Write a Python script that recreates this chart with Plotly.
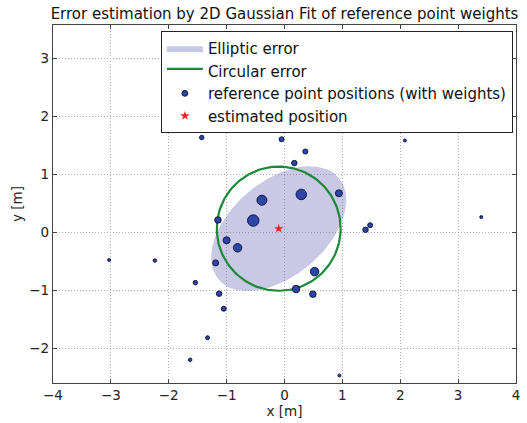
import numpy as np
import plotly.graph_objects as go

# reference points (x, y in metres) and weights (marker diameter scale)
ref_x = [-1.43, -0.05, 0.36, 0.17, 2.08, 0.94, 0.29, -0.39, -0.54, -1.15, -1.00, -0.81,
         -1.19, 0.52, 0.20, 0.49, -1.54, -1.13, -1.05, -1.33, -1.63, -3.03, -2.24,
         1.40, 1.48, 3.40, 0.95]
ref_y = [1.63, 1.60, 1.39, 1.19, 1.58, 0.67, 0.65, 0.55, 0.20, 0.21, -0.14, -0.27,
         -0.53, -0.68, -0.98, -1.07, -0.87, -1.06, -1.32, -1.82, -2.20, -0.48, -0.49,
         0.04, 0.12, 0.26, -2.47]
ref_w = [4.5, 5.0, 5.0, 5.5, 3.0, 7.0, 10.5, 10.0, 11.5, 6.5, 7.0, 8.5,
         6.0, 8.5, 7.5, 6.5, 4.5, 5.5, 5.0, 4.0, 3.5, 3.0, 3.5,
         5.5, 5.0, 3.0, 3.0]

# estimated position and error parameters
est_x = [-0.10]
est_y = [0.06]
ell_a = 1.36      # semi-major axis [m]
ell_b = 0.82      # semi-minor axis [m]
ell_angle = 40.0  # degrees
circ_r = 1.07     # circular error radius [m]

t = np.linspace(0, 2 * np.pi, 200)
th = np.deg2rad(ell_angle)
ex = est_x[0] + ell_a * np.cos(t) * np.cos(th) - ell_b * np.sin(t) * np.sin(th)
ey = est_y[0] + ell_a * np.cos(t) * np.sin(th) + ell_b * np.sin(t) * np.cos(th)
cx = est_x[0] + circ_r * np.cos(t)
cy = est_y[0] + circ_r * np.sin(t)

font = "DejaVu Sans"
fig = go.Figure()
fig.add_trace(go.Scatter(x=ex, y=ey, mode="lines", fill="toself",
                         fillcolor="rgba(100,100,180,0.35)",
                         line=dict(color="rgba(100,100,180,0.0)", width=0),
                         name="Elliptic error", hoverinfo="skip"))
fig.add_trace(go.Scatter(x=cx, y=cy, mode="lines", fill="toself",
                         fillcolor="rgba(255,255,255,0)",
                         line=dict(color="#1b8a38", width=2.2),
                         name="Circular error", hoverinfo="skip"))
fig.add_trace(go.Scatter(x=ref_x, y=ref_y, mode="markers",
                         marker=dict(size=ref_w, color="#2c45a6", opacity=1,
                                     line=dict(color="#0a0f30", width=0.9)),
                         name="reference point positions (with weights)"))
fig.add_trace(go.Scatter(x=est_x, y=est_y, mode="markers",
                         marker=dict(symbol="star", size=7, color="#ee2222", opacity=1,
                                     line=dict(width=0)),
                         name="estimated position"))

tfont = dict(family=font, size=13.5, color="#222")
axis_common = dict(showline=True, linecolor="#444", linewidth=1.3, mirror="ticks",
                   ticks="inside", ticklen=4, tickcolor="#444",
                   showgrid=True, gridcolor="#b0b0b0", griddash="1px,2px", gridwidth=1,
                   zeroline=False, tickfont=tfont)
fig.update_xaxes(range=[-4, 4], dtick=1, title=dict(text="x [m]", font=tfont, standoff=3),
                 **axis_common)
fig.update_yaxes(range=[-2.6, 3.57], dtick=1, title=dict(text="y [m]", font=tfont, standoff=3),
                 **axis_common)

fig.update_layout(
    width=527, height=423,
    margin=dict(l=53, r=7, t=25, b=36),
    plot_bgcolor="white", paper_bgcolor="white",
    title=dict(text="Error estimation by 2D Gaussian Fit of reference point weights",
               font=dict(family=font, size=15, color="#111"),
               x=0.5, xref="paper", xanchor="center", y=0.968, yanchor="middle"),
    legend=dict(x=0.233, y=0.983, xanchor="left", yanchor="top",
                bgcolor="white", bordercolor="#222", borderwidth=1,
                font=dict(family=font, size=15, color="#111"),
                itemwidth=36, tracegroupgap=0),
    showlegend=True,
)
fig.write_html("out.html")
